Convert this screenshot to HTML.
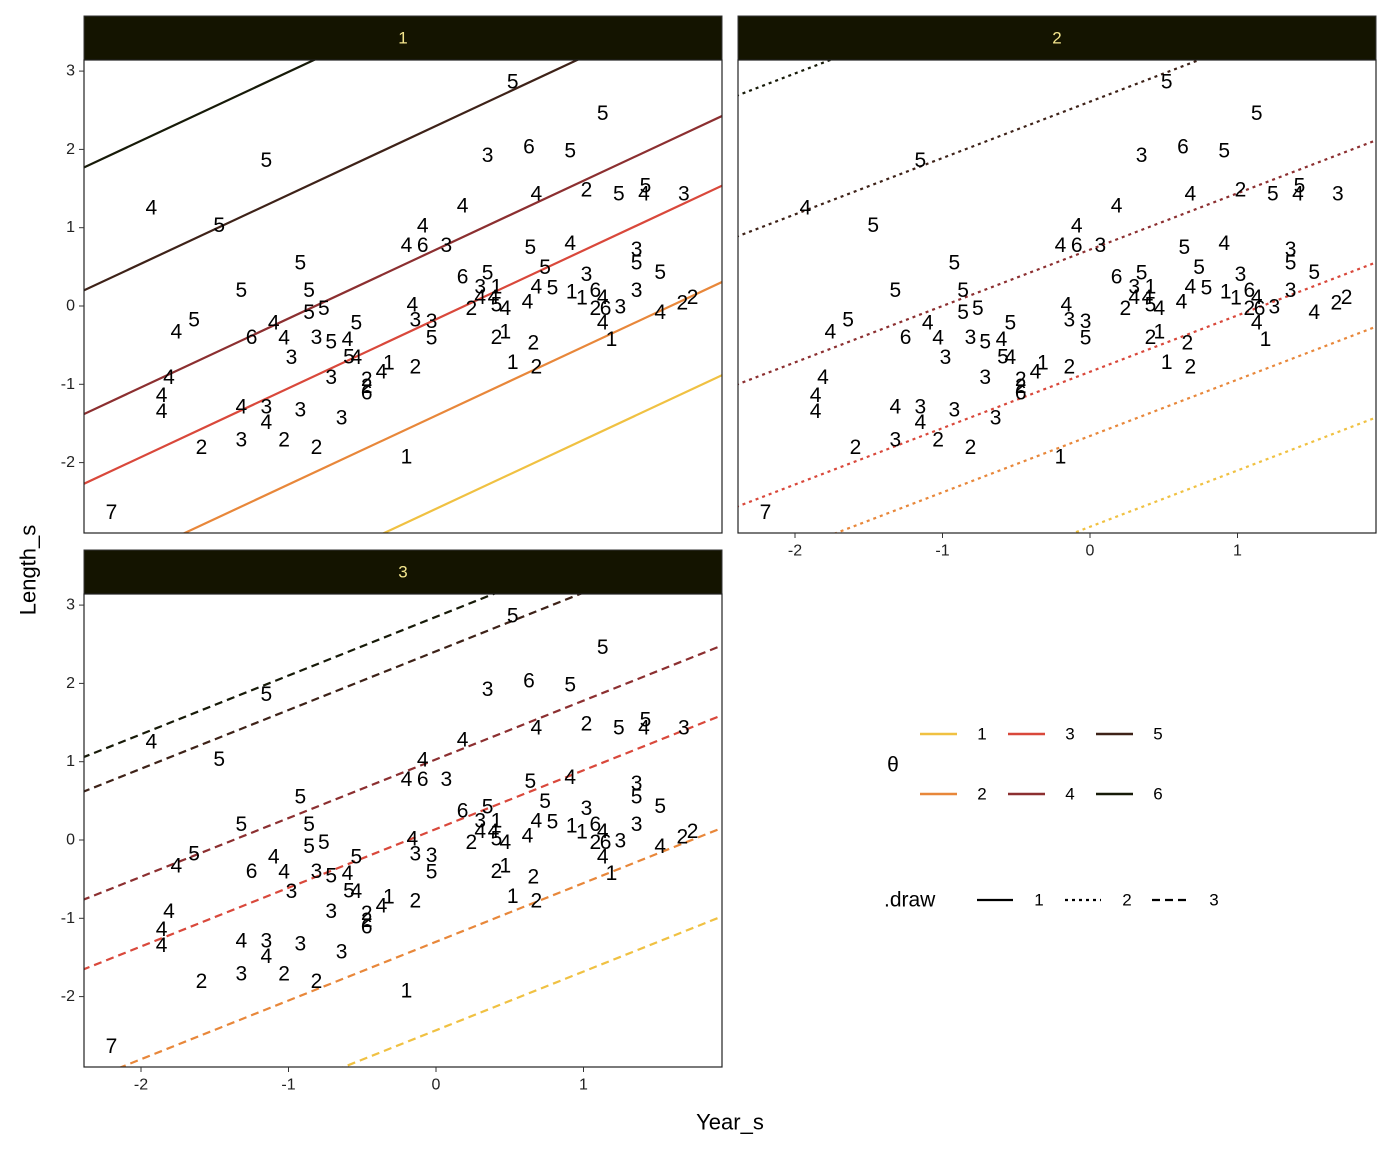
<!DOCTYPE html>
<html><head><meta charset="utf-8"><style>
html,body{margin:0;padding:0;background:#fff;}
svg text{font-family:"Liberation Sans",sans-serif;}
</style></head><body>
<svg id="chart" width="1392" height="1152" xmlns="http://www.w3.org/2000/svg">
<defs>
<clipPath id="c1"><rect x="84" y="60" width="638" height="473"/></clipPath>
<clipPath id="c2"><rect x="738" y="60" width="638" height="473"/></clipPath>
<clipPath id="c3"><rect x="84" y="594" width="638" height="473"/></clipPath>
</defs>
<g id="root"></g>
</svg>
<script>
const labels=[7,4,5,5,5,5,3,6,5,2,5,5,4,3,4,4,4,4,6,3,5,4,5,3,6,5,3,1,2,4,4,5,4,4,4,5,1,1,6,4,2,6,3,4,1,3,5,5,3,4,2,2,2,1,2,1,2,2,4,3,3,5,5,5,5,5,5,4,5,6,4,4,3,3,5,4,5,5,4,3,2,2,6,4,1,4,4,4,4,3,4,3,2,2,2,3,3,1];
const xs=[-2.20,-1.93,-1.47,-1.15,0.52,1.13,0.35,0.63,0.91,1.02,1.24,1.42,1.41,1.68,0.68,0.18,-0.09,-0.20,-0.09,0.07,0.64,0.91,0.74,1.02,0.18,0.35,0.30,0.41,0.24,0.30,0.39,0.41,0.47,0.62,0.68,0.79,0.92,0.99,1.08,1.13,1.08,1.15,1.25,1.13,1.19,1.36,1.36,1.52,1.36,1.52,1.67,1.74,0.41,0.47,0.66,0.52,0.68,-0.14,-0.16,-0.14,-0.03,-0.03,-0.92,-1.32,-0.86,-0.86,-0.76,-1.76,-1.64,-1.25,-1.10,-1.03,-0.98,-0.81,-0.71,-0.60,-0.54,-0.59,-0.54,-0.71,-0.47,-0.47,-0.47,-0.37,-0.32,-1.81,-1.86,-1.86,-1.32,-1.15,-1.15,-1.32,-1.03,-1.59,-0.81,-0.92,-0.64,-0.20];
const ys=[-2.64,1.25,1.03,1.86,2.86,2.46,1.92,2.03,1.98,1.48,1.43,1.53,1.43,1.43,1.43,1.28,1.02,0.77,0.77,0.77,0.75,0.80,0.49,0.40,0.37,0.42,0.24,0.24,-0.03,0.11,0.11,0.01,-0.03,0.05,0.24,0.23,0.18,0.10,0.20,0.11,-0.03,-0.03,-0.01,-0.22,-0.43,0.72,0.55,0.43,0.20,-0.08,0.04,0.11,-0.40,-0.33,-0.47,-0.72,-0.78,-0.78,0.01,-0.18,-0.20,-0.41,0.55,0.20,0.20,-0.08,-0.03,-0.33,-0.18,-0.40,-0.22,-0.41,-0.66,-0.40,-0.46,-0.43,-0.22,-0.65,-0.66,-0.91,-0.94,-1.03,-1.11,-0.84,-0.73,-0.91,-1.14,-1.35,-1.29,-1.29,-1.49,-1.71,-1.71,-1.81,-1.81,-1.33,-1.43,-1.93];
const thetaCats=["1","2","3","4","5","6"];
const drawCats=["1","2","3"];
const slopes=[0.88,0.72,0.75];
const cuts1=[-2.59,-1.40,-0.17,0.72,2.30,3.87];
const cuts2=[-2.82,-1.66,-0.84,0.72,2.61,4.41];
const cuts3=[-2.43,-1.30,0.14,1.03,2.41,2.85];
const xTicks=[-2,-1,0,1];
const yTicks=[-2,-1,0,1,2,3];

const colors=["#F0C142","#E8873A","#D9483B","#8C2F30","#3E2218","#171A08"];
const dashes=["none","3,4","8,5"];
const cutsAll=[cuts1,cuts2,cuts3];
const panels=[{x0:84,y0:60,clip:"c1"},{x0:738,y0:60,clip:"c2"},{x0:84,y0:594,clip:"c3"}];
const W=638,H=473,xScale=147.5,yScale=78.3;
const NS="http://www.w3.org/2000/svg";
const root=document.getElementById('root');
function mk(tag,attrs,parent){const e=document.createElementNS(NS,tag);for(const k in attrs)e.setAttribute(k,attrs[k]);(parent||root).appendChild(e);return e;}
panels.forEach((p,pi)=>{
  const sx=v=>p.x0+352+v*xScale;
  const sy=v=>p.y0+246+(-v)*yScale;
  const g=mk('g',{});
  
  
  const strip=mk('rect',{x:p.x0,y:p.y0-44,width:W,height:44,fill:'#141400',stroke:'#333','stroke-width':1},g);
  
  
  const st=mk('text',{x:p.x0+W/2,y:p.y0-22,'text-anchor':'middle','dominant-baseline':'central','font-size':17,fill:'#F3E58C'},g);
  st.textContent=String(pi+1);
  
  
  const lg=mk('g',{'clip-path':'url(#'+p.clip+')'},g);
  const xa=-2.4,xb=1.95;
  cutsAll[pi].forEach((c,ci)=>{
    const l=mk('line',{x1:sx(xa),y1:sy(c+slopes[pi]*xa),x2:sx(xb),y2:sy(c+slopes[pi]*xb),stroke:colors[ci],'stroke-width':2.2,'stroke-dasharray':dashes[pi]},lg);
    
    
  });
  labels.forEach((lab,i)=>{
    const t=mk('text',{x:sx(xs[i]),y:sy(ys[i]),'text-anchor':'middle','dominant-baseline':'central','font-size':21,fill:'#000'},lg);
    t.textContent=String(lab);
    
    
  });
  const fr=mk('rect',{x:p.x0,y:p.y0,width:W,height:H,fill:'none',stroke:'#222','stroke-width':1.2},g);
  
  
  if(pi!==1){
    yTicks.forEach(v=>{
      mk('line',{x1:p.x0-5,x2:p.x0,y1:sy(v),y2:sy(v),stroke:'#333','stroke-width':1},g);
      const t=mk('text',{x:p.x0-9,y:sy(v),'text-anchor':'end','dominant-baseline':'central','font-size':16,fill:'#222'},g);
      t.textContent=String(v);
      
      
    });
  }
  if(pi!==0){
    xTicks.forEach(v=>{
      mk('line',{x1:sx(v),x2:sx(v),y1:p.y0+H,y2:p.y0+H+5,stroke:'#333','stroke-width':1},g);
      const t=mk('text',{x:sx(v),y:p.y0+H+18,'text-anchor':'middle','dominant-baseline':'central','font-size':16,fill:'#222'},g);
      t.textContent=String(v);
      
      
    });
  }
});
// axis titles
let t=mk('text',{x:730,y:1122,'text-anchor':'middle','dominant-baseline':'central','font-size':22});
t.textContent='Year_s';


t=mk('text',{x:0,y:0,'text-anchor':'middle','dominant-baseline':'central','font-size':22,transform:'translate(28,570) rotate(-90)'});
t.textContent='Length_s';


// legend theta
t=mk('text',{x:893,y:765,'text-anchor':'middle','dominant-baseline':'central','font-size':21,'font-family':'"Liberation Serif",serif'});
t.textContent='θ';


const colX=[920,1008,1096],rowY=[734,794];
thetaCats.forEach((c,i)=>{
  const cx=colX[Math.floor(i/2)],cy=rowY[i%2];
  const l=mk('line',{x1:cx,x2:cx+37,y1:cy,y2:cy,stroke:colors[i],'stroke-width':2.4});
  
  
  const tt=mk('text',{x:cx+62,y:cy,'text-anchor':'middle','dominant-baseline':'central','font-size':17});
  tt.textContent=c;
  
  
});
t=mk('text',{x:884,y:900,'text-anchor':'start','dominant-baseline':'central','font-size':21});
t.textContent='.draw';


const dX=[977,1065,1152];
drawCats.forEach((c,i)=>{
  const l=mk('line',{x1:dX[i],x2:dX[i]+36,y1:900,y2:900,stroke:'#000','stroke-width':2.2,'stroke-dasharray':dashes[i]});
  
  
  const tt=mk('text',{x:dX[i]+62,y:900,'text-anchor':'middle','dominant-baseline':'central','font-size':17});
  tt.textContent=c;
  
  
});
</script>
</body></html>
